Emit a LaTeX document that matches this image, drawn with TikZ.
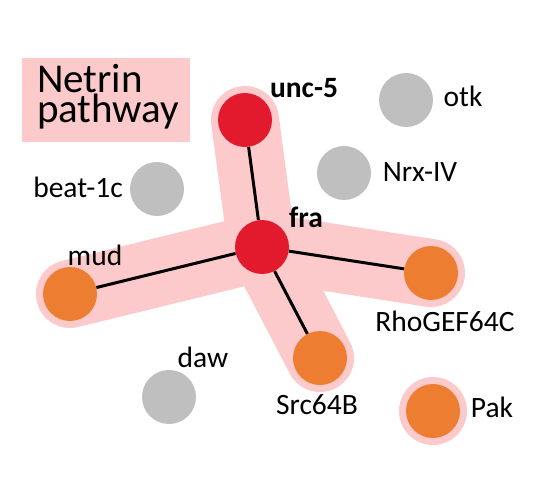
\documentclass[tikz,border=0pt]{standalone}
\usepackage{fontspec}
\setmainfont{Carlito}
\usetikzlibrary{backgrounds}
\definecolor{netred}{HTML}{E31A2E}
\definecolor{netorange}{HTML}{ED7D31}
\definecolor{netgray}{HTML}{BFBFBF}
\definecolor{netpink}{HTML}{FCCACA}
\begin{document}
\begin{tikzpicture}[x=1pt,y=-1pt,
  prot/.style={circle,minimum size=54pt,inner sep=0pt},
  redp/.style={prot,fill=netred},
  orangep/.style={prot,fill=netorange},
  grayp/.style={prot,fill=netgray},
  lbl/.style={inner sep=0pt,font=\fontsize{29.5}{30}\selectfont},
  blbl/.style={lbl,font=\fontsize{29.5}{30}\selectfont\bfseries},
  biglbl/.style={inner sep=0pt,anchor=base west,font=\fontsize{41}{31}\selectfont},
  halo/.style={draw=netpink,line width=68pt,line cap=round,line join=round},
  edge/.style={draw=black,line width=3pt}]
\useasboundingbox (0,0) rectangle (539,481);
% legend
\node[fill=netpink,minimum width=168pt,minimum height=84pt,inner sep=0pt] (legend) at (106,100) {};
\node[biglbl,text depth=0pt] (leg1) at (37,93) {Netrin};
\node[biglbl,text height=26pt] (leg2) at (37,123) {pathway};
% proteins
\node[redp] (unc5) at (245,120) {};
\node[redp] (fra) at (262,247) {};
\node[orangep] (mud) at (70,294) {};
\node[orangep] (rho) at (431,273) {};
\node[orangep] (src) at (320,358) {};
\node[orangep] (pak) at (433,411) {};
\node[grayp] (otk) at (406,100) {};
\node[grayp] (nrx) at (344,173) {};
\node[grayp] (beat) at (157,189) {};
\node[grayp] (daw) at (169,397) {};
% halos
\begin{scope}[on background layer]
  \draw[halo] (unc5.center) -- (fra.center) -- (mud.center)
              (fra.center) -- (rho.center)
              (fra.center) -- (src.center);
  \fill[netpink] (pak.center) circle[radius=34pt];
\end{scope}
% edges
\draw[edge] (unc5) -- (fra);
\draw[edge] (fra) -- (mud);
\draw[edge] (fra) -- (rho);
\draw[edge] (fra) -- (src);
% labels
\node[blbl] (lunc5) at (304,88) {unc-5};
\node[blbl] (lfra) at (306,217) {fra};
\node[lbl] (lotk) at (463,96) {otk};
\node[lbl] (lnrx) at (420,172) {Nrx-IV};
\node[lbl] (lbeat) at (78,187) {beat-1c};
\node[lbl] (lmud) at (95,255) {mud};
\node[lbl] (lrho) at (445,321) {RhoGEF64C};
\node[lbl] (lsrc) at (317,405) {Src64B};
\node[lbl] (lpak) at (492,407) {Pak};
\node[lbl] (ldaw) at (203,357) {daw};
\end{tikzpicture}
\end{document}
